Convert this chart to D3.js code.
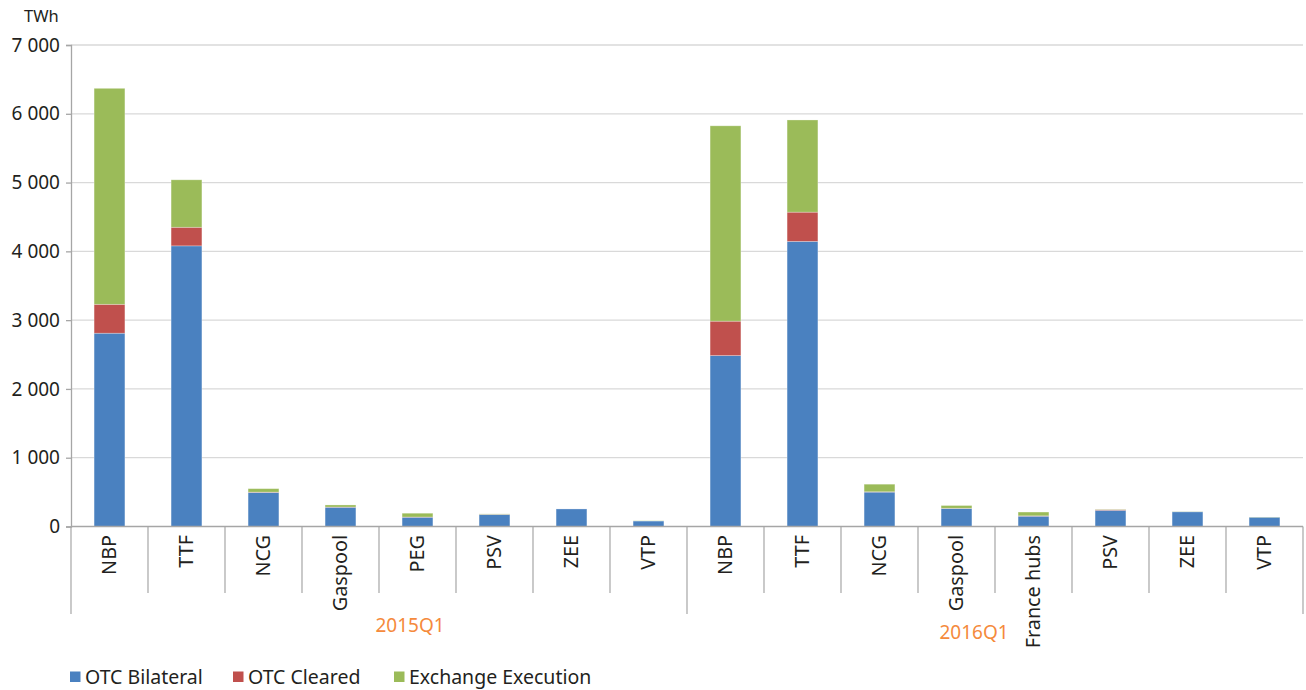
<!DOCTYPE html>
<html><head><meta charset="utf-8">
<script src="https://cdn.jsdelivr.net/npm/d3@7"></script>
<style>
html,body{margin:0;padding:0;background:#fff;}
text{font-family:"Noto Sans","Open Sans",sans-serif;fill:#231f20;}
</style></head>
<body><svg id="c" width="1306" height="690"></svg>
<script>
const periods = ["2015Q1","2016Q1"];
const hubs2015 = ["NBP","TTF","NCG","Gaspool","PEG","PSV","ZEE","VTP"];
const hubs2016 = ["NBP","TTF","NCG","Gaspool","France hubs","PSV","ZEE","VTP"];
const seriesNames = ["OTC Bilateral","OTC Cleared","Exchange Execution"];
const otcBilateral = [2810,4080,495,280,135,175,255,80, 2485,4145,500,262,150,235,214,135];
const otcCleared   = [420,270,5,3,3,3,0,0, 500,425,5,3,5,10,0,0];
const exchangeExec = [3140,690,50,30,55,5,0,3, 2840,1340,110,40,55,5,3,3];
const yTicks = [0,1000,2000,3000,4000,5000,6000,7000];
const colors = ["#4a81c0","#c0504d","#9bbb59"];

const svg = d3.select("#c");
const L = 71, R = 1303, T = 45, B = 526.5;

const cats = [];
hubs2015.forEach(h => cats.push({period:periods[0], hub:h}));
hubs2016.forEach(h => cats.push({period:periods[1], hub:h}));
const keys = cats.map((c,i) => i + "|" + c.period + "|" + c.hub);

const x = d3.scaleBand().domain(keys).range([L,R]).paddingInner(0.6).paddingOuter(0.3);
const y = d3.scaleLinear().domain([0,7000]).range([B,T]);
const step = x.step();

// gridlines
svg.append("g").selectAll("line").data(yTicks.filter(d=>d>0)).join("line")
  .attr("x1",L).attr("x2",R).attr("y1",d=>y(d)).attr("y2",d=>y(d))
  .attr("stroke","#d9d9d9").attr("stroke-width",1.3);

// stacked bars
const rows = keys.map((k,i)=>({key:k, b:otcBilateral[i], c:otcCleared[i], e:exchangeExec[i]}));
const stack = d3.stack().keys(["b","c","e"])(rows);
svg.append("g").selectAll("g").data(stack).join("g")
  .attr("fill",(d,i)=>colors[i])
  .selectAll("rect").data(d=>d).join("rect")
  .attr("x",d=>x(d.data.key)).attr("width",x.bandwidth())
  .attr("y",d=>y(d[1])).attr("height",d=>Math.max(0,y(d[0])-y(d[1])))
  .attr("stroke","rgba(255,255,255,0.35)").attr("stroke-width",0.8);

// y axis
const yAxis = d3.axisLeft(y).tickValues(yTicks).tickSize(5).tickPadding(6)
  .tickFormat(d => d3.format(",")(d).replace(/,/g," "));
const ya = svg.append("g").attr("transform",`translate(${L},0)`).call(yAxis);
ya.select(".domain").attr("stroke","#a6a6a6").attr("stroke-width",1.3);
ya.selectAll(".tick line").attr("stroke","#a6a6a6").attr("stroke-width",1.3);
ya.selectAll(".tick text").attr("font-size",19).attr("font-family","'Noto Sans','Open Sans',sans-serif").attr("fill","#231f20");

svg.append("text").attr("x",24).attr("y",22).attr("font-size",16.5).text("TWh");

// baseline
svg.append("line").attr("x1",L).attr("x2",R).attr("y1",B).attr("y2",B).attr("stroke","#a6a6a6").attr("stroke-width",1.3);

// category separators
const sepG = svg.append("g");
for (let i=0;i<=keys.length;i++){
  const xx = L + i*step;
  const isGroup = (i===0 || i===hubs2015.length || i===keys.length);
  sepG.append("line").attr("x1",xx).attr("x2",xx).attr("y1",B).attr("y2",isGroup?614:593)
    .attr("stroke","#a6a6a6").attr("stroke-width",1.2);
}

// rotated hub labels
svg.append("g").selectAll("text").data(cats).join("text")
  .attr("transform",(d,i)=>`translate(${x(keys[i])+x.bandwidth()/2},535) rotate(-90)`)
  .attr("text-anchor","end").attr("dy","0.35em").attr("font-size",19.8)
  .text(d=>d.hub);

// period labels
const g1c = L + hubs2015.length*step/2, g2c = L + hubs2015.length*step + hubs2016.length*step/2;
svg.append("text").attr("x",g1c+31).attr("y",632).attr("text-anchor","middle").attr("font-size",19)
  .style("fill","#f58a3c").text(periods[0]);
svg.append("text").attr("x",g2c-21).attr("y",639).attr("text-anchor","middle").attr("font-size",19)
  .style("fill","#f58a3c").text(periods[1]);

// legend
const legX = [70,233,394];
const lg = svg.append("g");
seriesNames.forEach((n,i)=>{
  lg.append("rect").attr("x",legX[i]).attr("y",671.5).attr("width",10.5).attr("height",10.5).attr("fill",colors[i]);
  lg.append("text").attr("x",legX[i]+15).attr("y",684).attr("font-size",19.5).text(n);
});
</script></body></html>
